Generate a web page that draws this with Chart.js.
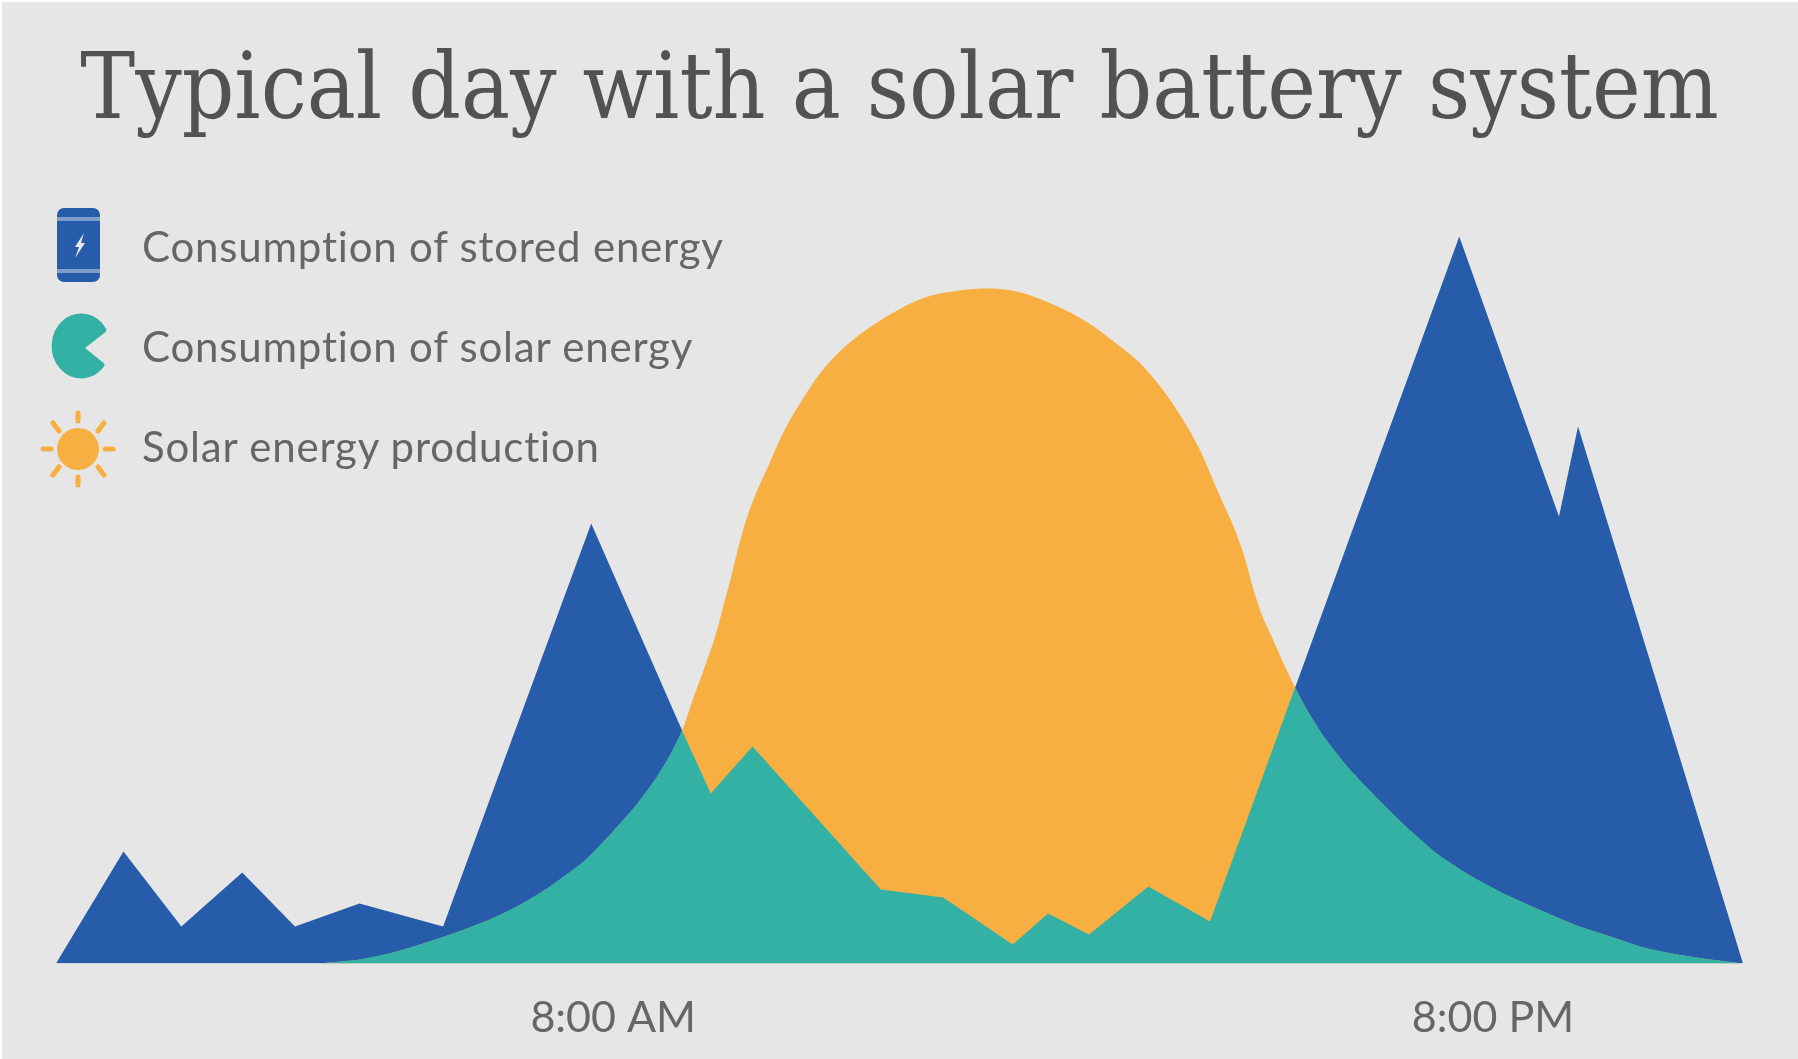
<!DOCTYPE html>
<html>
<head>
<meta charset="utf-8">
<title>Typical day with a solar battery system</title>
<script src="https://cdn.jsdelivr.net/npm/chart.js@4/dist/chart.umd.min.js"></script>
<style>
    html, body { margin: 0; padding: 0; background: #fff; overflow: hidden; }
    #panel { position: absolute; left: 2px; top: 2px; width: 1796px; height: 1057px; background: #e6e6e6; }
    #SolarCanvas { position: absolute; left: 0; top: 0; }
    .legend-item { position: absolute; left: 142px; font: 42px Lato, sans-serif; font-variant-ligatures: none; letter-spacing: 0.8px; color: #666; white-space: nowrap; line-height: 50px; }
    .legend-icon { position: absolute; left: 0; top: 0; }
</style>
</head>
<body>
<div id="panel"></div>
<canvas id="SolarCanvas" width="1798" height="1059"></canvas>

<svg class="legend-icon" width="130" height="500">
    <!-- battery -->
    <rect x="57" y="208" width="43" height="74" rx="7" fill="#275caa"/>
    <rect x="57" y="217" width="43" height="4" fill="#7f9ccb"/>
    <rect x="57" y="269" width="43" height="4" fill="#7f9ccb"/>
    <path d="M84 233 L75 247 L79 247 L75 258 L85 243 L81 243 Z" fill="#e4e9f3"/>
    <!-- pacman -->
    <path d="M104 330 A27 30 0 1 0 102 365 L81 348 Z" fill="#33b1a5" stroke="#33b1a5" stroke-width="5" stroke-linejoin="round"/>
    <!-- sun -->
    <circle cx="78" cy="449" r="21" fill="#f8af41"/>
    <g stroke="#f8af41" stroke-width="5" stroke-linecap="round">
        <line x1="78" y1="413" x2="78" y2="421"/>
        <line x1="78" y1="477" x2="78" y2="485"/>
        <line x1="43" y1="449" x2="51" y2="449"/>
        <line x1="105" y1="449" x2="113" y2="449"/>
        <line x1="53" y1="423" x2="59" y2="431"/>
        <line x1="104" y1="423" x2="98" y2="431"/>
        <line x1="53" y1="475" x2="59" y2="467"/>
        <line x1="104" y1="475" x2="98" y2="467"/>
    </g>
</svg>
<div class="legend-item" style="top:221px">Consumption of stored energy</div>
<div class="legend-item" style="top:321px">Consumption of solar energy</div>
<div class="legend-item" style="top:421px">Solar energy production</div>

<script>
var chartTitle = 'Typical day with a solar battery system';
var tickHours = [8, 20];
var tickLabels = ['8:00 AM', '8:00 PM'];

var storedHours = [0.40, 1.32, 2.11, 2.94, 3.66, 4.54, 5.68, 7.70, 8.94, 9.33, 9.90, 11.65, 12.50, 13.45, 13.93, 14.49, 15.30, 16.14, 19.54, 20.90, 21.16, 23.41];
var storedValues = [0, 1.12, 0.37, 0.91, 0.37, 0.60, 0.37, 4.40, 2.33, 1.70, 2.17, 0.74, 0.66, 0.19, 0.50, 0.29, 0.77, 0.42, 7.27, 4.47, 5.37, 0];

var solarUseHours = [3.99, 4.28, 4.55, 5.00, 5.41, 5.82, 6.32, 6.69, 7.10, 7.60, 7.96, 8.32, 8.60, 8.78, 8.94, 9.33, 9.90, 11.65, 12.50, 13.45, 13.93, 14.49, 15.30, 16.14, 17.30, 17.46, 17.69, 18.01, 18.37, 18.78, 19.23, 19.64, 20.14, 20.69, 21.14, 21.60, 22.05, 22.51, 22.96, 23.41];
var solarUseValues = [0, 0.02, 0.04, 0.11, 0.20, 0.30, 0.44, 0.57, 0.75, 1.02, 1.29, 1.59, 1.87, 2.09, 2.33, 1.70, 2.17, 0.74, 0.66, 0.19, 0.50, 0.29, 0.77, 0.42, 2.76, 2.54, 2.27, 1.97, 1.69, 1.39, 1.10, 0.90, 0.70, 0.52, 0.38, 0.27, 0.16, 0.09, 0.04, 0];

var productionHours = [3.99, 4.28, 4.55, 5.00, 5.41, 5.82, 6.32, 6.69, 7.10, 7.60, 7.96, 8.32, 8.60, 8.78, 8.94, 9.10, 9.25, 9.39, 9.50, 9.60, 9.71, 9.82, 9.94, 10.10, 10.32, 10.58, 10.84, 11.21, 11.73, 12.25, 12.72, 13.14, 13.56, 14.03, 14.45, 14.81, 15.23, 15.62, 16.00, 16.16, 16.32, 16.46, 16.60, 16.71, 16.82, 16.98, 17.12, 17.30, 17.46, 17.69, 18.01, 18.37, 18.78, 19.23, 19.64, 20.14, 20.69, 21.14, 21.60, 22.05, 22.51, 22.96, 23.41];
var productionValues = [0, 0.02, 0.04, 0.11, 0.20, 0.30, 0.44, 0.57, 0.75, 1.02, 1.29, 1.59, 1.87, 2.09, 2.33, 2.67, 2.97, 3.27, 3.57, 3.84, 4.17, 4.45, 4.69, 4.95, 5.31, 5.64, 5.92, 6.20, 6.47, 6.66, 6.73, 6.75, 6.71, 6.58, 6.42, 6.23, 5.97, 5.61, 5.14, 4.87, 4.60, 4.37, 4.09, 3.80, 3.54, 3.27, 3.04, 2.76, 2.54, 2.27, 1.97, 1.69, 1.39, 1.10, 0.90, 0.70, 0.52, 0.38, 0.27, 0.16, 0.09, 0.04, 0];

function toPoints(xs, ys) {
    return xs.map(function (x, i) { return { x: x, y: ys[i] }; });
}

function area(label, xs, ys, color, order) {
    return {
        label: label,
        data: toPoints(xs, ys),
        backgroundColor: color,
        borderWidth: 0,
        pointRadius: 0,
        tension: 0,
        fill: 'origin',
        order: order
    };
}

window.onload = function () {
    var ctx = document.getElementById('SolarCanvas').getContext('2d');

    var production = area('Solar energy production', productionHours, productionValues, '#f8af41', 2);
    production.cubicInterpolationMode = 'monotone';

    window.SolarChart = new Chart(ctx, {
        type: 'line',
        data: {
            datasets: [
                area('Consumption of stored energy', storedHours, storedValues, '#275caa', 3),
                production,
                area('Consumption of solar energy', solarUseHours, solarUseValues, '#33b1a5', 1)
            ]
        },
        options: {
            responsive: false,
            animation: false,
            layout: { padding: { left: 56, right: 55, top: 0, bottom: 0 } },
            plugins: {
                legend: { display: false },
                tooltip: { enabled: false },
                title: {
                    display: true,
                    text: chartTitle,
                    color: '#525252',
                    font: { family: '"DejaVu Serif Condensed", "DejaVu Serif", serif', size: 91.5, weight: 'normal', lineHeight: 1.2 },
                    padding: { top: 39, bottom: 14.7 }
                }
            },
            scales: {
                x: {
                    type: 'linear',
                    min: 0.40,
                    max: 23.41,
                    grid: { display: false },
                    border: { display: false },
                    afterBuildTicks: function (axis) {
                        axis.ticks = tickHours.map(function (h) { return { value: h }; });
                    },
                    afterFit: function (axis) { axis.height = 95.5; },
                    ticks: {
                        color: '#666',
                        font: { family: 'Lato, sans-serif', size: 43 },
                        padding: 21,
                        maxRotation: 0,
                        autoSkip: false,
                        callback: function (value) {
                            return tickLabels[tickHours.indexOf(value)];
                        }
                    }
                },
                y: {
                    display: false,
                    min: 0,
                    max: 8
                }
            }
        }
    });
};
</script>
</body>
</html>
